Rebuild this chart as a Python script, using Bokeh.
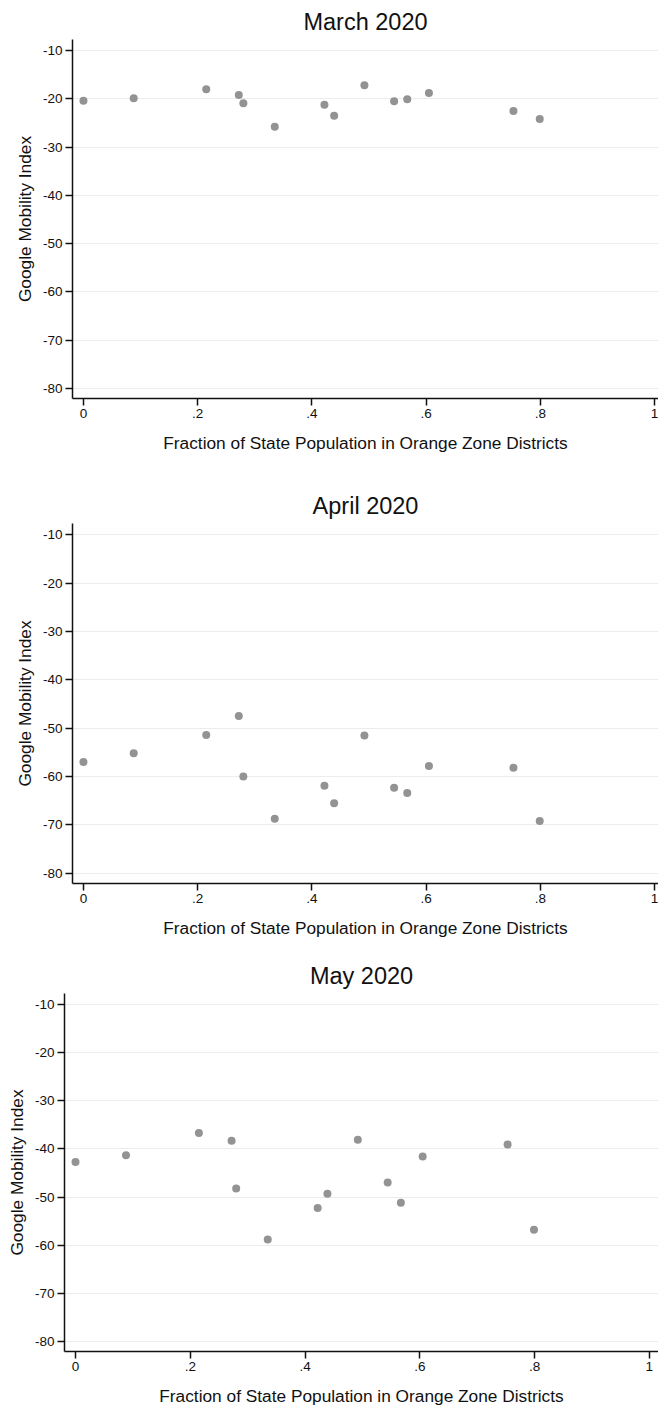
from bokeh.plotting import figure
from bokeh.models import FixedTicker, Range1d, ColumnDataSource
from bokeh.embed import file_html
from bokeh.resources import INLINE

# ---- data ----
frac_orange = [0.0, 0.088, 0.215, 0.272, 0.280, 0.335, 0.422, 0.439,
               0.492, 0.544, 0.567, 0.605, 0.753, 0.799]
mobility_march = [-20.4, -19.9, -18.0, -19.2, -20.9, -25.8, -21.2, -23.5,
                  -17.2, -20.5, -20.1, -18.8, -22.5, -24.2]
mobility_april = [-57.0, -55.2, -51.4, -47.5, -60.0, -68.7, -61.9, -65.5,
                  -51.5, -62.3, -63.4, -57.8, -58.2, -69.2]
mobility_may = [-42.7, -41.3, -36.7, -38.3, -48.2, -58.8, -52.3, -49.3,
                -38.1, -47.0, -51.2, -41.6, -39.1, -56.8]
titles = ["March 2020", "April 2020", "May 2020"]
x_ticks = [0, 0.2, 0.4, 0.6, 0.8, 1.0]
x_tick_labels = ["0", ".2", ".4", ".6", ".8", "1"]
y_ticks = [-80, -70, -60, -50, -40, -30, -20, -10]
y_tick_labels = [str(v) for v in y_ticks]
x_title = "Fraction of State Population in Orange Zone Districts"
y_title = "Google Mobility Index"

FONT = "Liberation Sans"
PAGE_W = 658

def make_panel(title, yvals, height, border_top, frame_h, border_left, x_end):
    p = figure(width=PAGE_W, height=height, output_backend="svg",
               toolbar_location=None,
               x_range=Range1d(-0.0192, x_end), y_range=Range1d(-82.1, -7.7),
               min_border_left=border_left, min_border_right=0,
               min_border_top=border_top,
               min_border_bottom=height - border_top - frame_h)
    p.frame_height = frame_h
    p.frame_width = PAGE_W - border_left
    p.outline_line_color = None
    p.background_fill_color = "white"
    p.border_fill_color = "white"

    p.title.text = title
    p.title.text_font = FONT
    p.title.text_font_size = "23.5px"
    p.title.text_font_style = "normal"
    p.title.text_color = "#111111"
    p.title.align = "center"
    p.title.offset = 8
    p.title.standoff = 9

    src = ColumnDataSource(dict(x=frac_orange, y=yvals))
    p.scatter("x", "y", source=src, size=8, fill_color="#939393",
              line_color=None)

    p.xgrid.visible = False
    p.ygrid.grid_line_color = "#ececec"
    p.ygrid.grid_line_width = 1
    p.ygrid.ticker = FixedTicker(ticks=y_ticks)

    xa = p.xaxis[0]
    xa.ticker = FixedTicker(ticks=x_ticks)
    xa.major_label_overrides = dict(zip(x_ticks, x_tick_labels))
    xa.axis_label = x_title
    ya = p.yaxis[0]
    ya.ticker = FixedTicker(ticks=y_ticks)
    ya.major_label_overrides = dict(zip(y_ticks, y_tick_labels))
    ya.axis_label = y_title

    for ax in (xa, ya):
        ax.axis_line_color = "#111111"
        ax.axis_line_width = 1.5
        ax.major_tick_line_color = "#111111"
        ax.major_tick_line_width = 1.5
        ax.major_tick_out = 7
        ax.major_tick_in = 0
        ax.minor_tick_out = 0
        ax.minor_tick_in = 0
        ax.major_label_text_font = FONT
        ax.major_label_text_font_size = "13.5px"
        ax.major_label_text_color = "#111111"
        ax.axis_label_text_font = FONT
        ax.axis_label_text_font_size = "17.3px"
        ax.axis_label_text_font_style = "normal"
        ax.axis_label_text_color = "#111111"
    xa.major_label_standoff = 3
    xa.axis_label_standoff = 12
    ya.major_label_standoff = 3
    ya.axis_label_standoff = 5
    ya.major_label_orientation = "horizontal"
    return p

p1 = make_panel(titles[0], mobility_march, 470, 39, 359, 72, 1.007)
p2 = make_panel(titles[1], mobility_april, 478, 53, 360, 72, 1.007)
p3 = make_panel(titles[2], mobility_may, 459, 45, 358, 64, 1.016)

open("out.html", "w").write(file_html([p1, p2, p3], INLINE))
